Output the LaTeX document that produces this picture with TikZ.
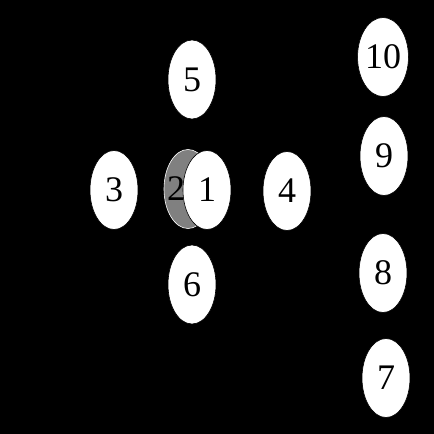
\documentclass[tikz,border=0pt]{standalone}
\usepackage{fontspec}
\setmainfont{Liberation Serif}
\usetikzlibrary{shapes.geometric}
\tikzset{
  nd/.style={ellipse, fill=white, draw=black, line width=0.6pt, minimum width=48pt, minimum height=79pt, inner sep=0pt, font=\fontsize{36}{36}\selectfont},
  grey/.style={ellipse, fill=gray, draw=white, line width=0.6pt, minimum width=48pt, minimum height=79pt, inner sep=0pt},
  lbl/.style={inner sep=0pt, font=\fontsize{36}{36}\selectfont}
}
\begin{document}
\begin{tikzpicture}[x=1pt,y=-1pt]
\fill[black] (0,0) rectangle (434,434);
\useasboundingbox (0,0) rectangle (434,434);
\node[nd] (n5) at (192,79.5) {5};
\node[nd] (n10) at (383,57) {10};
\node[nd] (n9) at (384,156) {9};
\node[nd] (n3) at (114,190) {3};
\node[grey] (n2) at (188,189) {};
\node[lbl] (l2) at (176,189) {2};
\node[nd] (n1) at (207,190) {1};
\node[nd] (n4) at (287,191) {4};
\node[nd] (n6) at (192,284.5) {6};
\node[nd] (n8) at (383,273) {8};
\node[nd] (n7) at (386,378) {7};
\end{tikzpicture}
\end{document}
